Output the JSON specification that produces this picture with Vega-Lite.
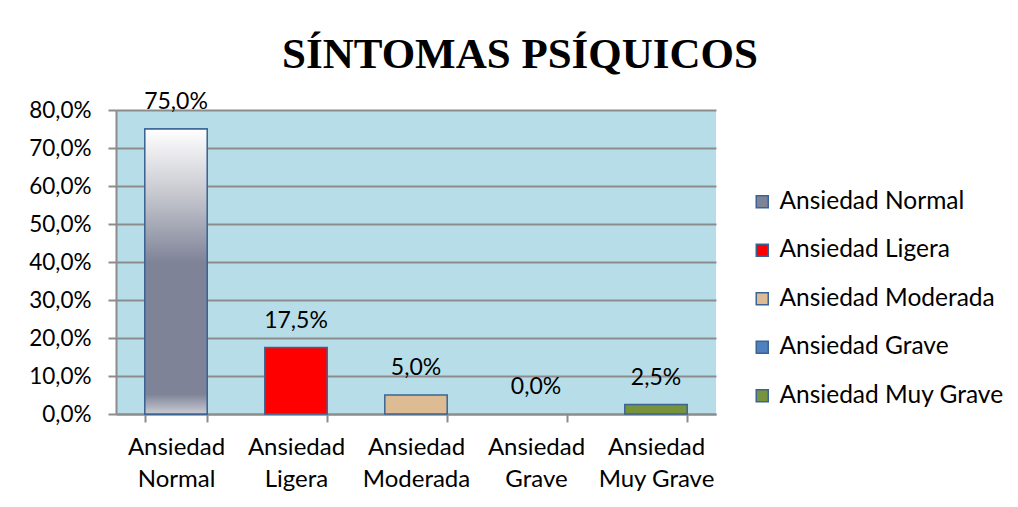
{
  "$schema": "https://vega.github.io/schema/vega-lite/v6.json",
  "autosize": {"type": "none"},
  "width": 600,
  "height": 304,
  "padding": {"left": 116, "top": 110, "right": 302, "bottom": 93},
  "background": "white",
  "config": {
    "locale": {"number": {"decimal": ",", "thousands": ".", "grouping": [3], "currency": ["", " €"]}},
    "view": {"fill": "#B7DEE8", "stroke": null},
    "font": "Lato"
  },
  "title": {
    "text": "SÍNTOMAS PSÍQUICOS",
    "font": "Liberation Serif",
    "fontSize": 43,
    "fontWeight": "bold",
    "color": "black",
    "anchor": "middle",
    "dx": 104,
    "offset": 14
  },
  "data": {
    "values": [
      {"categoria": "Ansiedad Normal", "porcentaje": 0.75},
      {"categoria": "Ansiedad Ligera", "porcentaje": 0.175},
      {"categoria": "Ansiedad Moderada", "porcentaje": 0.05},
      {"categoria": "Ansiedad Grave", "porcentaje": 0.0},
      {"categoria": "Ansiedad Muy Grave", "porcentaje": 0.025}
    ]
  },
  "encoding": {
    "x": {
      "field": "categoria",
      "type": "nominal",
      "sort": null,
      "scale": {
        "domain": ["Ansiedad Normal", "Ansiedad Ligera", "Ansiedad Moderada", "Ansiedad Grave", "Ansiedad Muy Grave"],
        "paddingInner": 0.48,
        "paddingOuter": 0.24
      },
      "axis": {
        "title": null,
        "labelAngle": 0,
        "labelExpr": "[substring(datum.label,0,8), substring(datum.label,9)]",
        "labelFont": "Lato",
        "labelFontSize": 24,
        "labelColor": "black",
        "labelLineHeight": 32,
        "labelPadding": 13,
        "tickBand": "extent",
        "tickSize": 8,
        "tickColor": "#8C8C8C",
        "tickWidth": 2,
        "domainColor": "#8C8C8C",
        "domainWidth": 2
      }
    },
    "y": {
      "field": "porcentaje",
      "type": "quantitative",
      "scale": {"domain": [0, 0.8], "nice": false},
      "axis": {
        "title": null,
        "format": ".1%",
        "values": [0, 0.1, 0.2, 0.3, 0.4, 0.5, 0.6, 0.7, 0.8],
        "labelFont": "Lato",
        "labelFontSize": 22.5,
        "labelColor": "black",
        "labelPadding": 17,
        "tickSize": 8,
        "tickColor": "#8C8C8C",
        "tickWidth": 2,
        "domainColor": "#8C8C8C",
        "domainWidth": 2,
        "gridColor": "#8C8C8C",
        "gridWidth": 2,
        "gridOpacity": 1
      }
    }
  },
  "layer": [
    {
      "transform": [{"filter": "datum.porcentaje > 0"}],
      "mark": {"type": "bar", "stroke": "#3B6494", "strokeWidth": 1.5},
      "encoding": {
        "color": {
          "field": "categoria",
          "type": "nominal",
          "sort": null,
          "scale": {
            "domain": ["Ansiedad Normal", "Ansiedad Ligera", "Ansiedad Moderada", "Ansiedad Grave", "Ansiedad Muy Grave"],
            "range": ["#7E8397", "#FF0000", "#DDBC93", "#4F81BD", "#77933C"]
          },
          "legend": {
            "title": null,
            "orient": "none",
            "legendX": 634,
            "legendY": 79.5,
            "symbolType": "square",
            "symbolSize": 144,
            "symbolStrokeColor": "#3B6494",
            "symbolStrokeWidth": 1.5,
            "labelFont": "Lato",
            "labelFontSize": 24.5,
            "labelColor": "black",
            "labelOffset": 5,
            "rowPadding": 23.5,
            "labelLimit": 300
          }
        }
      }
    },
    {
      "transform": [{"filter": "datum.categoria === 'Ansiedad Normal'"}],
      "mark": {
        "type": "bar",
        "stroke": "#3B6494",
        "strokeWidth": 1.5,
        "fill": {
          "gradient": "linear",
          "x1": 0, "y1": 0, "x2": 0, "y2": 1,
          "stops": [
            {"offset": 0, "color": "#FFFFFF"},
            {"offset": 0.22, "color": "#C9CAD1"},
            {"offset": 0.47, "color": "#7E8397"},
            {"offset": 0.93, "color": "#7E8397"},
            {"offset": 1, "color": "#CACBD3"}
          ]
        }
      }
    },
    {
      "mark": {"type": "text", "baseline": "middle", "dy": -27, "font": "Lato", "fontSize": 23, "color": "black"},
      "encoding": {
        "text": {"field": "porcentaje", "type": "quantitative", "format": ".1%"}
      }
    }
  ]
}
